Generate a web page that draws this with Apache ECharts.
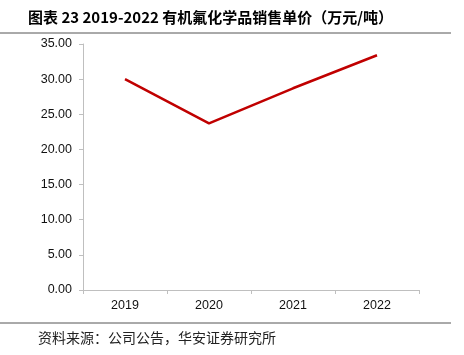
<!DOCTYPE html>
<html><head><meta charset="utf-8">
<script src="https://cdn.jsdelivr.net/npm/echarts@6/dist/echarts.min.js"></script>
<style>html,body{margin:0;padding:0;background:#fff}#c{width:464px;height:355px}</style>
</head><body><div id="c"></div>
<script>
const categories = ['2019', '2020', '2021', '2022'];
const prices = [30.0, 23.7, 28.7, 33.4];
const yTicks = [0, 5, 10, 15, 20, 25, 30, 35];
const titleText = '图表 23 2019-2022 有机氟化学品销售单价（万元/吨）';
const sourceText = '资料来源：公司公告，华安证券研究所';

const chart = echarts.init(document.getElementById('c'), null, {renderer: 'canvas'});
chart.setOption({
  animation: false,
  backgroundColor: '#fff',
  title: {
    text: titleText, left: 23, top: 5,
    textStyle: {fontFamily: 'Noto Sans CJK SC', fontSize: 15, fontWeight: 'bold', color: '#000'}
  },
  grid: {left: 83, right: 45, top: 44, bottom: 65},
  xAxis: {
    type: 'category', data: categories, boundaryGap: true,
    axisLine: {lineStyle: {color: '#bfbfbf', width: 1}},
    axisTick: {show: true, length: 4, lineStyle: {color: '#bfbfbf'}},
    axisLabel: {color: '#111', fontSize: 12.5, fontFamily: 'Liberation Sans', margin: 9}
  },
  yAxis: {
    type: 'value', min: yTicks[0], max: yTicks[yTicks.length - 1], interval: 5,
    axisLine: {show: true, lineStyle: {color: '#bfbfbf', width: 1}},
    axisTick: {show: true, length: 4, lineStyle: {color: '#bfbfbf'}},
    splitLine: {show: false},
    axisLabel: {color: '#111', fontSize: 12.5, fontFamily: 'Liberation Sans', margin: 11,
      formatter: v => v.toFixed(2)}
  },
  series: [{
    type: 'line', data: prices, symbol: 'none',
    lineStyle: {color: '#c00000', width: 2.5}
  }],
  graphic: [
    {type: 'line', shape: {x1: 0, y1: 33, x2: 451, y2: 33}, style: {stroke: '#555', lineWidth: 1}},
    {type: 'line', shape: {x1: 0, y1: 323, x2: 451, y2: 323}, style: {stroke: '#555', lineWidth: 1}},
    {type: 'text', left: 38, top: 331, style: {text: sourceText, font: '14px "Noto Sans CJK SC"', fill: '#222'}}
  ]
});
</script></body></html>
